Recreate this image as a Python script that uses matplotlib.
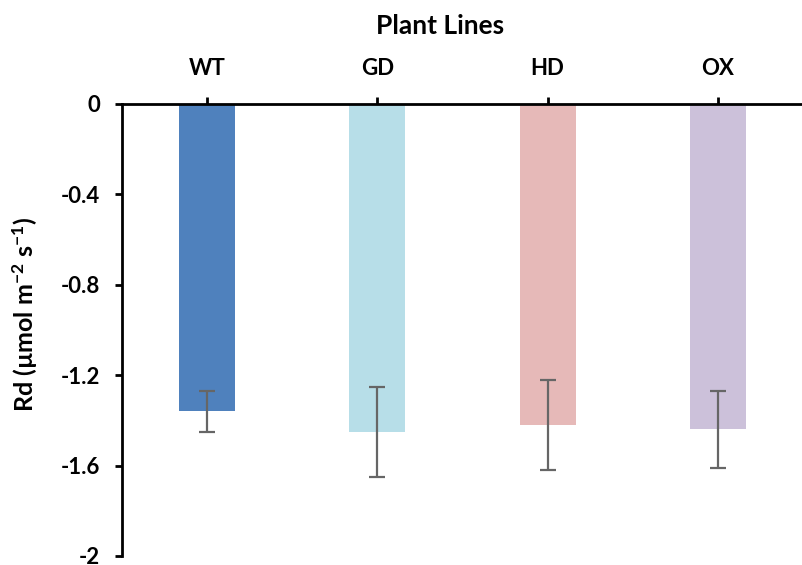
import numpy as np
import matplotlib
matplotlib.use("Agg")
import matplotlib.pyplot as plt

lines = ["WT", "GD", "HD", "OX"]
rd = [-1.36, -1.45, -1.42, -1.44]
err = [0.09, 0.20, 0.20, 0.17]
colors = ["#4F81BD", "#B7DEE8", "#E6B9B8", "#CCC1DA"]

plt.rcParams['font.family'] = ['Lato', 'DejaVu Sans']
plt.rcParams['font.weight'] = 'bold'
plt.rcParams['mathtext.fontset'] = 'custom'
plt.rcParams['mathtext.rm'] = 'Lato:bold'
plt.rcParams['mathtext.default'] = 'rm'

fig = plt.figure(figsize=(8.03, 5.65), dpi=100)
ax = fig.add_axes([122/803, 1-556/565, 1-122/803, (556-104)/565])

x = np.arange(len(lines))
ax.bar(x, rd, width=0.33, color=colors, zorder=2)
ax.errorbar(x, rd, yerr=err, fmt='none', ecolor='#666666', elinewidth=1.6,
            capsize=5.5, capthick=1.6, zorder=3)

ax.set_xlim(-0.5, 3.5)
ax.set_ylim(-2, 0)
ax.set_yticks([0, -0.4, -0.8, -1.2, -1.6, -2])
ax.set_yticklabels(['0', '-0.4', '-0.8', '-1.2', '-1.6', '-2'])
ax.set_xticks(x)
ax.set_xticklabels(lines)

ax.xaxis.tick_top()
ax.xaxis.set_label_position('top')
ax.spines['bottom'].set_visible(False)
ax.spines['right'].set_visible(False)
ax.spines['top'].set_linewidth(2)
ax.spines['left'].set_linewidth(2)
ax.tick_params(axis='both', direction='out', length=5, width=2, labelsize=16)
ax.tick_params(axis='x', pad=13)
ax.tick_params(axis='y', pad=11)

ax.set_xlabel('Plant Lines', fontsize=19, fontweight='bold')
ax.xaxis.set_label_coords(0.467, 1.155)
ax.set_ylabel('Rd (µmol m$^{-2}$ s$^{-1}$)', fontsize=18, fontweight='bold')
ax.yaxis.set_label_coords(-0.12, 0.535)

fig.savefig('out.png', dpi=100)
